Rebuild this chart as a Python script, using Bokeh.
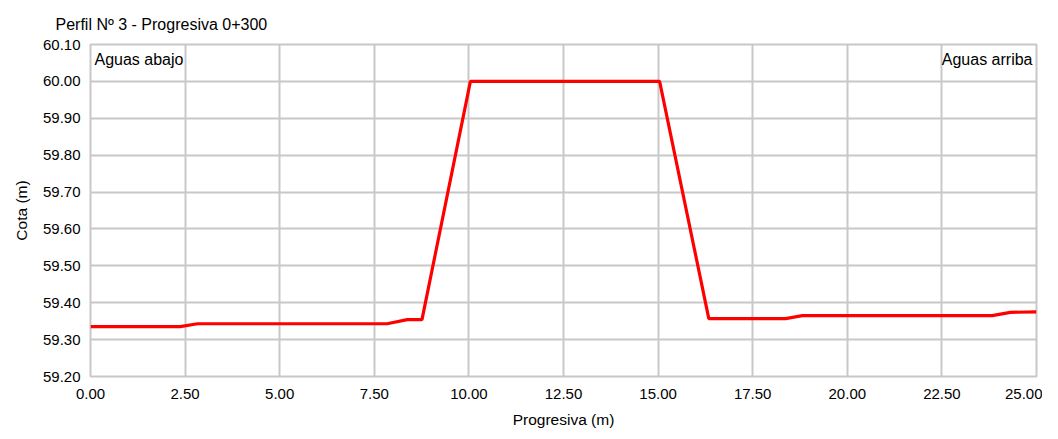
from bokeh.plotting import figure
from bokeh.models import FixedTicker, NumeralTickFormatter, Label, Range1d
from bokeh.embed import file_html
from bokeh.resources import INLINE

title_text = "Perfil Nº 3 - Progresiva 0+300"
x_label = "Progresiva (m)"
y_label = "Cota (m)"
left_note = "Aguas abajo"
right_note = "Aguas arriba"

progresiva = [0.0, 2.37, 2.83, 7.84, 8.37, 8.76, 10.04, 15.04, 16.34, 18.37, 18.81, 23.83, 24.31, 25.0]
cota = [59.335, 59.335, 59.343, 59.343, 59.354, 59.354, 60.00, 60.00, 59.357, 59.357, 59.365, 59.365, 59.374, 59.375]

x_ticks = [0, 2.5, 5, 7.5, 10, 12.5, 15, 17.5, 20, 22.5, 25]
y_ticks = [59.2, 59.3, 59.4, 59.5, 59.6, 59.7, 59.8, 59.9, 60.0, 60.1]

FONT = "Liberation Sans"
GRID = "#c8c8c8"

p = figure(width=1042, height=430, output_backend="svg", toolbar_location=None,
           x_range=Range1d(0, 25), y_range=Range1d(59.2, 60.1),
           min_border_left=90, min_border_right=6, min_border_top=44, min_border_bottom=46)

p.title.text = title_text
p.title.text_font = FONT
p.title.text_font_size = "16px"
p.title.text_font_style = "normal"
p.title.text_color = "#000000"
p.title.offset = -35
p.title.standoff = 20
p.title.vertical_align = "top"

p.line(progresiva, cota, line_color="#ff0000", line_width=3.2)

for ax in (p.xaxis, p.yaxis):
    ax.major_tick_line_color = None
    ax.minor_tick_line_color = None
    ax.axis_line_color = None
    ax.major_tick_out = 0
    ax.major_tick_in = 0
    ax.major_label_text_font = FONT
    ax.major_label_text_font_size = "15px"
    ax.major_label_text_color = "#000000"
    ax.axis_label_text_font = FONT
    ax.axis_label_text_font_size = "15.5px"
    ax.axis_label_text_font_style = "normal"
    ax.axis_label_text_color = "#000000"
    ax.formatter = NumeralTickFormatter(format="0.00")

p.xaxis.ticker = FixedTicker(ticks=x_ticks)
p.yaxis.ticker = FixedTicker(ticks=y_ticks)
p.xaxis.axis_label = x_label
p.yaxis.axis_label = y_label
p.xaxis.major_label_standoff = 12
p.yaxis.major_label_standoff = 10
p.xaxis.axis_label_standoff = 9
p.yaxis.axis_label_standoff = 10

p.grid.grid_line_color = GRID
p.grid.grid_line_width = 2
p.outline_line_color = GRID
p.outline_line_width = 2
p.background_fill_color = "white"
p.border_fill_color = "white"

p.add_layout(Label(x=0, y=60.1, text=left_note, x_offset=4, y_offset=-6,
                   text_baseline="top", text_align="left",
                   text_font=FONT, text_font_size="16px", text_color="#000000"))
p.add_layout(Label(x=25, y=60.1, text=right_note, x_offset=-4, y_offset=-6,
                   text_baseline="top", text_align="right",
                   text_font=FONT, text_font_size="16px", text_color="#000000"))

open("out.html", "w").write(file_html(p, INLINE))
